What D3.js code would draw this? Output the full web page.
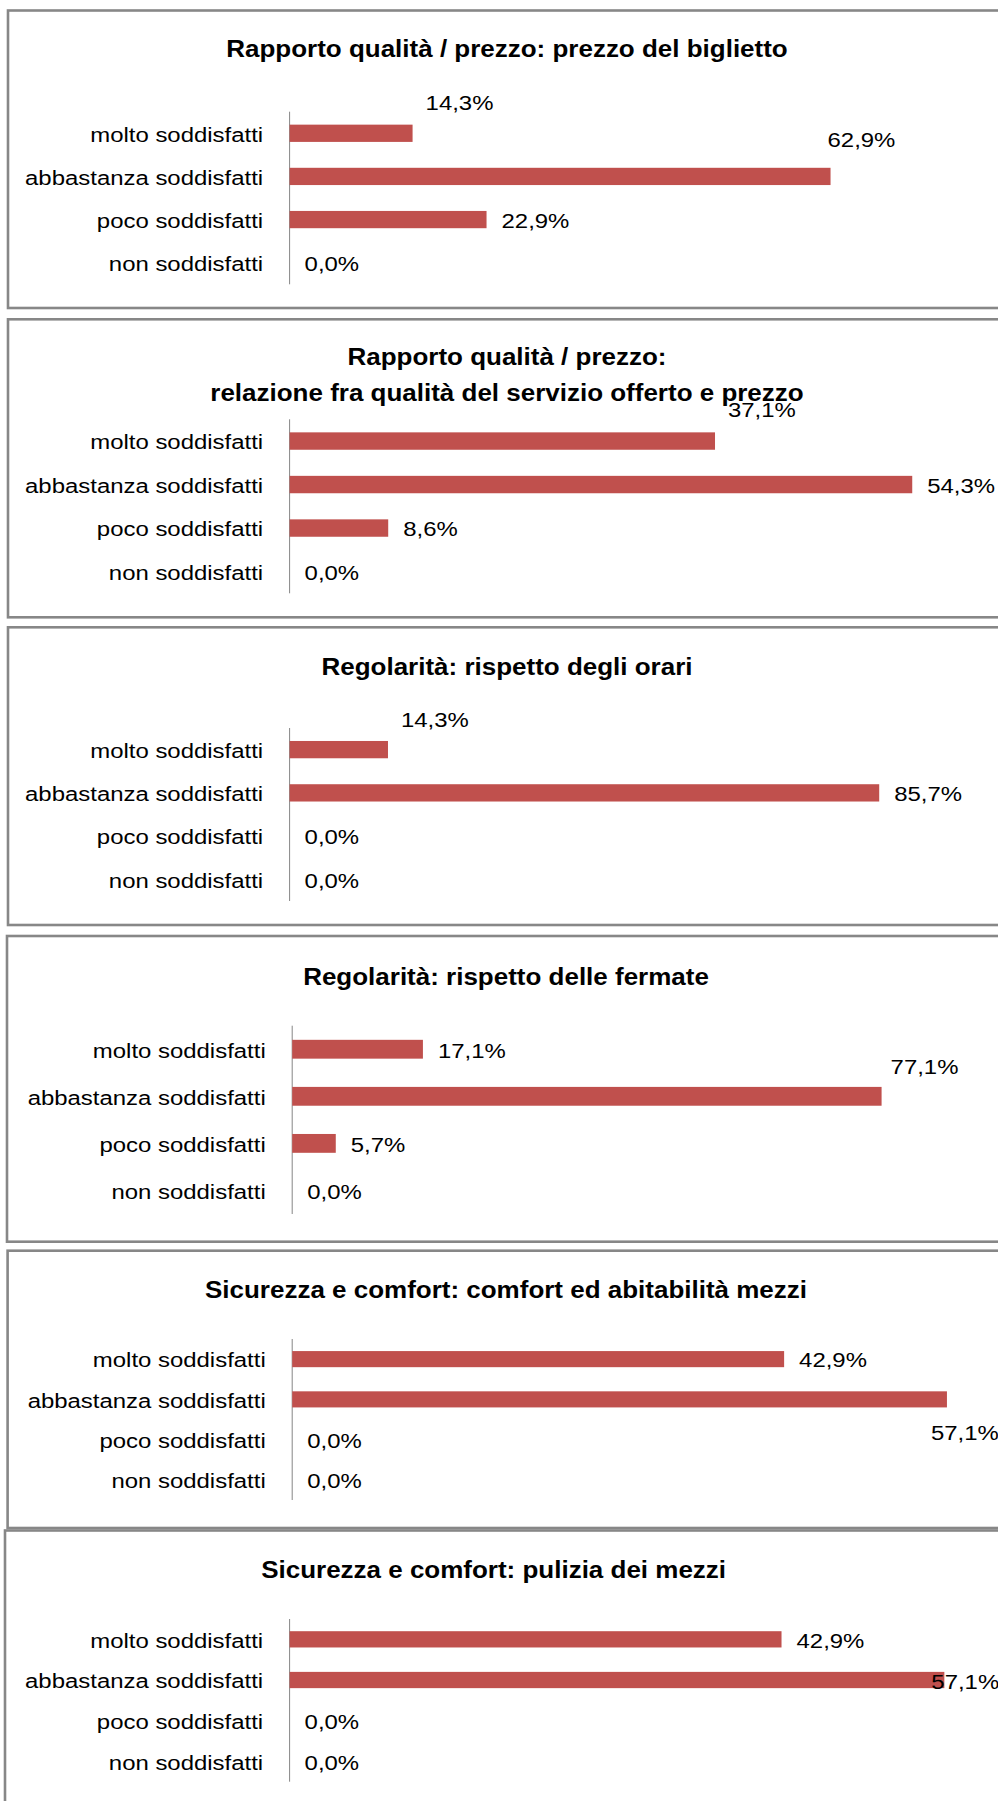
<!DOCTYPE html>
<html>
<head>
<meta charset="utf-8">
<script src="https://cdn.jsdelivr.net/npm/d3@7"></script>
<style>
  html, body { margin: 0; padding: 0; background: #fff; }
  svg { display: block; }
  text { font-family: "Liberation Sans", Arial, sans-serif; fill: #000; }
</style>
</head>
<body>
<svg id="chart" width="998" height="1801"></svg>
<script>
// categories (same for every panel)
var categories = ['molto soddisfatti', 'abbastanza soddisfatti', 'poco soddisfatti', 'non soddisfatti'];

// panel titles
var titles = [
    ['Rapporto qualità / prezzo: prezzo del biglietto'],
    ['Rapporto qualità / prezzo:', 'relazione fra qualità del servizio offerto e prezzo'],
    ['Regolarità: rispetto degli orari'],
    ['Regolarità: rispetto delle fermate'],
    ['Sicurezza e comfort: comfort ed abitabilità mezzi'],
    ['Sicurezza e comfort: pulizia dei mezzi']
];

// percentages per panel
var prezzoBiglietto = [14.3, 62.9, 22.9, 0.0];
var qualitaPrezzo   = [37.1, 54.3, 8.6, 0.0];
var rispettoOrari   = [14.3, 85.7, 0.0, 0.0];
var rispettoFermate = [17.1, 77.1, 5.7, 0.0];
var comfortMezzi    = [42.9, 57.1, 0.0, 0.0];
var puliziaMezzi    = [42.9, 57.1, 0.0, 0.0];

var series = [prezzoBiglietto, qualitaPrezzo, rispettoOrari, rispettoFermate, comfortMezzi, puliziaMezzi];

// hidden value axis maximum of each panel
var axisMax = [80, 60, 100, 90, 60, 60];

// panel frames and plot areas
var panels = [
    { top: 10.5,   bottom: 308,    left: 8,   axisX: 289.6, plotTop: 111.7,  plotH: 172.6, titleX: 507,   titleY: 57.3 },
    { top: 319.3,  bottom: 617.3,  left: 8,   axisX: 289.6, plotTop: 419.3,  plotH: 174,   titleX: 507,   titleY: 365 },
    { top: 627.3,  bottom: 925,    left: 8,   axisX: 289.6, plotTop: 728,    plotH: 173,   titleX: 507,   titleY: 675 },
    { top: 936,    bottom: 1241.7, left: 7,   axisX: 292.2, plotTop: 1025.7, plotH: 188.3, titleX: 506,   titleY: 985 },
    { top: 1250.7, bottom: 1528,   left: 7.6, axisX: 292.2, plotTop: 1339,   plotH: 161,   titleX: 506,   titleY: 1297.7 },
    { top: 1530.5, bottom: 1830,   left: 5,   axisX: 289.6, plotTop: 1619,   plotH: 162.7, titleX: 493.6, titleY: 1578 }
];

// manually moved data labels: [panel, category, dx, dy]
var labelNudge = [
    [0, 0, -2, -31.6], [0, 1, -18, -37.4],
    [1, 0, -2, -32],
    [2, 0, -2, -31],
    [3, 1, -6, -31],
    [4, 1, -31, 32],
    [5, 1, -28, 1]
];

var plotW = 688;
var sx = 1.14;          // horizontal stretch of the original text
var barColor = '#C0504D';
var frameColor = '#878787';

var svg = d3.select('#chart');

svg.append('rect')
    .attr('width', 998)
    .attr('height', 1801)
    .style('fill', '#fff');

panels.forEach(function(p, i) {
    var data = series[i];

    var g = svg.append('g').attr('class', 'panel');

    g.append('rect')
        .attr('x', p.left)
        .attr('y', p.top)
        .attr('width', 1020 - p.left)
        .attr('height', p.bottom - p.top)
        .style('fill', '#fff')
        .style('stroke', frameColor)
        .style('stroke-width', 2.6);

    // title
    titles[i].forEach(function(line, k) {
        g.append('text')
            .attr('transform', 'translate(' + p.titleX + ',' + (p.titleY + k * 36) + ') scale(' + (sx - 0.01) + ',1)')
            .attr('text-anchor', 'middle')
            .style('font-size', '23px')
            .style('font-weight', 'bold')
            .text(line);
    });

    var x = d3.scaleLinear()
        .domain([0, axisMax[i]])
        .range([p.axisX, p.axisX + plotW]);

    var y = d3.scaleBand()
        .domain(categories)
        .range([p.plotTop, p.plotTop + p.plotH])
        .paddingInner(0.6)
        .paddingOuter(0.3);

    var step = y.step();

    // category axis
    var axisG = g.append('g')
        .attr('transform', 'translate(' + p.axisX + ',0)')
        .call(d3.axisLeft(y).tickSize(0).tickPadding(26.5));

    axisG.select('.domain')
        .attr('d', 'M0,' + p.plotTop + 'V' + (p.plotTop + p.plotH))
        .style('stroke', '#868686')
        .style('stroke-width', 1);

    axisG.selectAll('.tick')
        .attr('transform', function(d) { return 'translate(0,' + (y(d) + y.bandwidth() / 2) + ')'; });

    axisG.selectAll('.tick text')
        .attr('dy', null)
        .attr('y', 8.3)
        .attr('x', -26.5 / sx)
        .attr('transform', 'scale(' + sx + ',1)')
        .style('font-family', '"Liberation Sans", Arial, sans-serif')
        .style('font-size', '21px')
        .style('fill', '#000');

    // bars
    g.selectAll('rect.bar')
        .data(data)
        .enter()
        .append('rect')
        .attr('class', 'bar')
        .attr('x', x(0))
        .attr('y', function(d, j) { return y(categories[j]); })
        .attr('width', function(d) { return x(d) - x(0); })
        .attr('height', y.bandwidth())
        .style('fill', barColor);

    // data labels
    g.selectAll('text.value')
        .data(data)
        .enter()
        .append('text')
        .attr('class', 'value')
        .attr('transform', function(d, j) {
            var nd = labelNudge.filter(function(n) { return n[0] === i && n[1] === j; })[0];
            var dx = nd ? nd[2] : 0;
            var dy = nd ? nd[3] : 0;
            var lx = x(d) + 15 + dx;
            var ly = y(categories[j]) + y.bandwidth() / 2 + 8.3 + dy;
            return 'translate(' + lx + ',' + ly + ') scale(' + sx + ',1)';
        })
        .style('font-size', '21px')
        .text(function(d) { return d.toFixed(1).replace('.', ',') + '%'; });
});
</script>
</body>
</html>
